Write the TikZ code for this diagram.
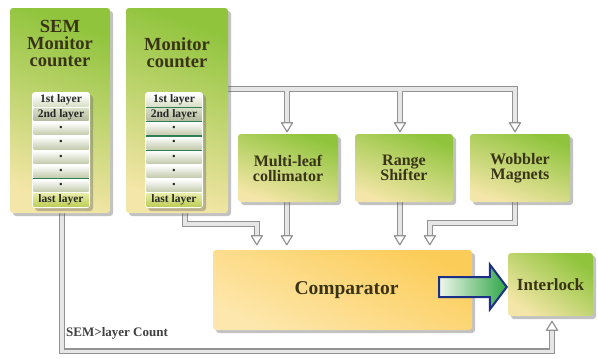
\documentclass[tikz,border=0pt]{standalone}
\usepackage{fontspec}
\setmainfont{Liberation Serif}
\usetikzlibrary{shadows,calc,backgrounds}
\definecolor{gtop}{HTML}{8FC43C}
\definecolor{gbot}{HTML}{F4E6A8}
\definecolor{ctop}{HTML}{FCCC58}
\definecolor{cbot}{HTML}{FDE7AC}
\definecolor{txt}{HTML}{3A3417}
\definecolor{pipeedge}{HTML}{939393}
\definecolor{pipeinner}{HTML}{E6E6E6}
\definecolor{arrblue}{HTML}{1C2F86}
\definecolor{arrgreen}{HTML}{2FA647}
\definecolor{arrl}{HTML}{EEF6EA}
\definecolor{layg}{HTML}{2F7F55}
\definecolor{rowa}{HTML}{D9DFC6}
\definecolor{rowb}{HTML}{B3BA9F}
\definecolor{rowc}{HTML}{C3CBAC}
\definecolor{rowd}{HTML}{BFCF5A}
\definecolor{rowdt}{HTML}{E6ECA5}
\newcommand\fsz[2]{\fontsize{#1}{#2}\selectfont}
\newcommand\dotm{{\fsz{9}{9}\textbullet}}
\newcommand\layerstack[3]{%
  \node[stackframe] (#1) at (#2,-150) {};
  \foreach \t/\s [count=\i] in {1st layer/lay1,2nd layer/lay2,\dotm/laymid,\dotm/laymid,\dotm/laymid,\dotm/laymid,\dotm/laymid,last layer/laylast} {
    \node[\s] (#1r\i) at (#2,{-93-14.25*\i+7.125}) {\t};
  }
  \foreach \k in {#3} \draw[layg,line width=1.3pt] ($(#1r\k.south west)+(0,-0.8)$) -- ($(#1r\k.south east)+(0,-0.8)$);
}
\newcommand\pipepaths[1]{%
  \draw[#1] ($(mon.north east)+(-2,-81)$) -| (t3);
  \draw[#1] (t1 |- bus) -- (t1);
  \draw[#1] (t2 |- bus) -- (t2);
  \draw[#1] ($(mon.south)+(8,2)$) |- ($(c1)+(0,12)$) -- (c1);
  \draw[#1] (ml.south -| c2) -- (c2);
  \draw[#1] (rs.south -| c3) -- (c3);
  \draw[#1] ($(wob.south)+(-5,2)$) |- ($(c4)+(0,13)$) -- (c4);
  \draw[#1] ($(sem.south)+(2,2)$) |- ($(t5)+(0,-21)$) -- (t5);
}
\begin{document}
\begin{tikzpicture}[x=1pt,y=1pt,
  shad/.style={drop shadow={shadow xshift=3pt,shadow yshift=-3pt,fill=black!60,opacity=.4}},
  gbox/.style={shad,rounded corners=3pt,top color=gtop,bottom color=gbot,shading angle=-20,text=txt,align=center,inner sep=0pt,font=\bfseries\fsz{16}{15}},
  cbox/.style={shad,rounded corners=3pt,top color=ctop,bottom color=cbot,shading angle=-25,text=txt,inner sep=0pt,font=\bfseries\fsz{19.5}{20}},
  bigtxt/.style={text=txt,align=center,inner sep=0pt,font=\bfseries\fsz{18.5}{17}},
  stackframe/.style={shad,fill=white,rounded corners=3pt,minimum width=58pt,minimum height=116pt,inner sep=0pt},
  layrow/.style={minimum width=55pt,minimum height=12.6pt,inner sep=0pt,text=black!85,font=\bfseries\fsz{11.5}{12}},
  lay1/.style={layrow,top color=white,bottom color=rowa},
  lay2/.style={layrow,top color=rowa,bottom color=rowb},
  laymid/.style={layrow,top color=white,bottom color=rowc},
  laylast/.style={layrow,top color=rowdt,bottom color=rowd},
  pipeout/.style={draw=pipeedge,line width=6.4pt,line join=miter},
  pipein/.style={draw=pipeinner,line width=3.4pt,line join=miter},
  tipdown/.pic={\draw[pipeedge,fill=white,line width=1.2pt,line join=round] (-5.5,9) -- (5.5,9) -- (0,0) -- cycle;},
  bigarrow/.style={draw=arrblue,line width=2pt,line join=miter,left color=arrl,right color=arrgreen},
]
\useasboundingbox (0,0) rectangle (598,-359);

% main boxes
\node[gbox,minimum width=100pt,minimum height=205pt] (sem) at (60,-110.5) {};
\node[gbox,minimum width=102pt,minimum height=205pt] (mon) at (177,-110.5) {};
\node[bigtxt,anchor=north] (semt) at (60,-20) {SEM\\Monitor\\counter};
\node[bigtxt,anchor=north] (mont) at (177,-37) {Monitor\\counter};

\layerstack{semst}{61}{6}
\layerstack{monst}{174}{1,2,3,4}

\node[gbox,minimum width=100pt,minimum height=68pt] (ml) at (288,-168) {Multi-leaf\\collimator};
\node[gbox,minimum width=98pt,minimum height=68pt] (rs) at (404,-168) {Range\\Shifter};
\node[gbox,minimum width=100pt,minimum height=68pt] (wob) at (520,-168) {Wobbler\\Magnets};

\node[cbox,minimum width=259pt,minimum height=80pt] (comp) at (342.5,-290) {\hspace*{8pt}Comparator};
\node[gbox,minimum width=85pt,minimum height=63pt,font=\bfseries\fsz{17}{17},shading angle=-35] (int) at (550.5,-284.5) {Interlock};

\node[anchor=west,inner sep=0pt,text=black!75,font=\bfseries\fsz{13}{13}] (cnt) at (66,-333) {SEM>layer Count};

% pipe coordinates
\coordinate (bus) at ($(mon.north east)+(0,-81)$);
\coordinate (t1) at ($(ml.north)+(-1,11)$);
\coordinate (t2) at ($(rs.north)+(-4,11)$);
\coordinate (t3) at ($(wob.north)+(-5,11)$);
\coordinate (c1) at ($(comp.north west)+(44,14)$);
\coordinate (c2) at ($(comp.north west)+(74,14)$);
\coordinate (c3) at ($(comp.north west)+(187,14)$);
\coordinate (c4) at ($(comp.north west)+(217,14)$);
\coordinate (t5) at ($(int.south)+(1.5,-14)$);

\begin{pgfonlayer}{background}
  \pipepaths{pipeout}
  \pipepaths{pipein}
\end{pgfonlayer}

\foreach \c in {t1,t2,t3,c1,c2,c3,c4} \pic at ($(\c)+(0,-9)$) {tipdown};
\pic[rotate=180] at ($(t5)+(0,9)$) {tipdown};

% big arrow comparator -> interlock
\coordinate (a0) at ($(comp.east)+(-33,3)$);
\coordinate (a1) at ($(int.west)+(-1,-2.5)$);
\draw[bigarrow] ($(a0)+(0,10)$) -- ($(a1)+(-17,10)$) -- ($(a1)+(-17,22.5)$) -- (a1) -- ($(a1)+(-17,-22.5)$) -- ($(a1)+(-17,-10)$) -- ($(a0)+(0,-10)$) -- cycle;
\end{tikzpicture}
\end{document}
